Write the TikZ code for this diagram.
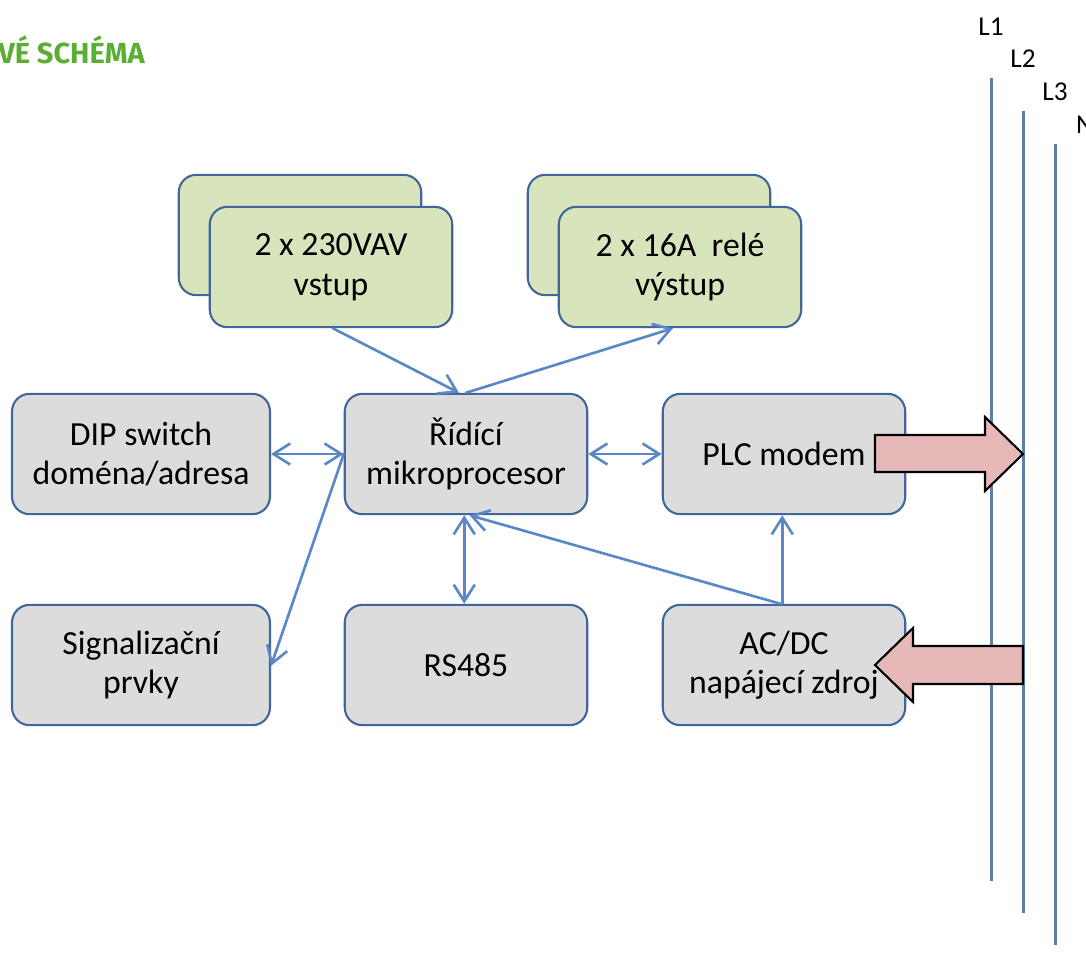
\documentclass[tikz,border=0pt]{standalone}
\usepackage{fontspec}
\setmainfont{Carlito}
\newfontfamily\titlefont{Fira Sans}
\usetikzlibrary{positioning,arrows.meta}
\definecolor{boxline}{HTML}{41679A}
\definecolor{boxgray}{HTML}{DCDCDC}
\definecolor{boxgreen}{HTML}{D8E4BC}
\definecolor{linkblue}{HTML}{5A88C6}
\definecolor{railblue}{HTML}{5E7FA9}
\definecolor{fatpink}{HTML}{E6B9B8}
\definecolor{titlegreen}{HTML}{5AAF32}

\begin{document}
\begin{tikzpicture}[x=0.02cm, y=-0.02cm,
    font=\fontsize{19.2}{22.5}\selectfont,
    block/.style={draw=boxline, line width=1.2pt, rounded corners=10pt,
      align=center, minimum width=138pt, minimum height=68.5pt, inner sep=0pt},
    graybox/.style={block, fill=boxgray},
    greenbox/.style={block, fill=boxgreen},
    link/.style={draw=linkblue, line width=1.5pt, line cap=round,
      arrows={-Straight Barb[length=9.5pt,width=12pt,line width=1.5pt]}},
    twoway/.style={link, arrows={Straight Barb[length=9.5pt,width=12pt,line width=1.5pt]-Straight Barb[length=9.5pt,width=12pt,line width=1.5pt]}},
    rail/.style={draw=railblue, line width=1.7pt},
    fat/.style={draw=black, line width=1.2pt, fill=fatpink, line join=miter},
    phase/.style={font=\fontsize{15.5}{17}\selectfont, anchor=base}]
  \useasboundingbox (0,0) rectangle (1086,971);%
  % title
  \node[anchor=base east, inner sep=0pt, text=titlegreen,
    font=\titlefont\bfseries\fontsize{16.5}{18}\selectfont] (title) at (145,63) {VÉ SCHÉMA};%
  % rails
  \coordinate (l1top) at (991,78);  \coordinate (l1bot) at (991,881);%
  \coordinate (l2top) at (1023,111); \coordinate (l2bot) at (1023,913);%
  \coordinate (l3top) at (1055,144); \coordinate (l3bot) at (1055,945);%
  \draw[rail] (l1top) -- (l1bot);%
  \draw[rail] (l2top) -- (l2bot);%
  \draw[rail] (l3top) -- (l3bot);%
  \node[phase] (l1) at (991,35) {L1};%
  \node[phase] (l2) at (1023,67) {L2};%
  \node[phase] (l3) at (1055,100) {L3};%
  \node[phase] (nn) at (1085,133) {N};%
  % inputs / outputs
  \node[greenbox] (inback) at (300,235) {};%
  \node[greenbox] (infront) at (331,267) {2 x 230VAV\\vstup};%
  \node[greenbox] (outback) at (649,235) {};%
  \node[greenbox] (outfront) at (680,267) {2 x 16A~ relé\\výstup};%
  % blocks
  \node[graybox, minimum width=146.8pt] (dip) at (141,454) {DIP switch\\doména/adresa};%
  \node[graybox] (cpu) at (466,454) {Řídící\\mikroprocesor};%
  \node[graybox] (plc) at (784,454) {PLC modem};%
  \node[graybox, minimum width=146.8pt] (sig) at (141,665) {Signalizační\\prvky};%
  \node[graybox] (rs) at (466,665) {RS485};%
  \node[graybox] (psu) at (784,665) {AC/DC\\napájecí zdroj};%
  % links
  \draw[link] ([xshift=1]infront.south) -- ([xshift=-4]cpu.north);%
  \draw[link] (cpu.north) -- ([xshift=-4]outfront.south);%
  \draw[twoway] (dip.east) -- (cpu.west);%
  \draw[twoway] (cpu.east) -- (plc.west);%
  \draw[link] (cpu.west) -- ([yshift=-0.5]sig.east);%
  \draw[twoway] ([xshift=-1]cpu.south) -- ([xshift=-1]rs.north);%
  \draw[link] ([xshift=-1]psu.north) -- ([xshift=-1]plc.south);%
  \draw[link] ([xshift=-2]psu.north) -- ([xshift=2]cpu.south);%
  % power line arrows
  \draw[fat] (875,435) -- (985,435) -- (985,417) -- (l2top |- plc.east)
    -- (985,491) -- (985,472) -- (875,472) -- cycle;%
  \draw[fat] (l2top |- 0,646) -- (913,646) -- (913,628) -- (875,665)
    -- (913,702) -- (913,684) -- (l2top |- 0,684) -- cycle;%
\end{tikzpicture}
\end{document}
